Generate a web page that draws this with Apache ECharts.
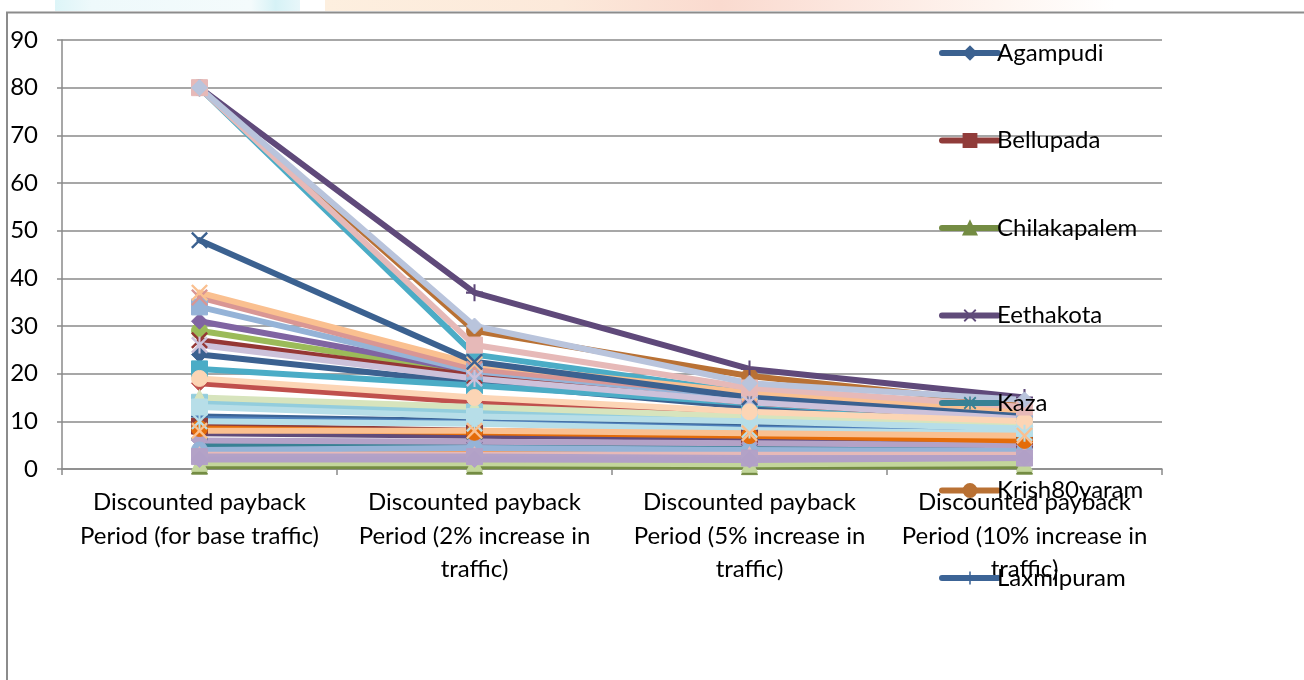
<!DOCTYPE html>
<html>
<head>
<meta charset="utf-8">
<title>Discounted payback period</title>
<script src="https://cdn.jsdelivr.net/npm/echarts@6/dist/echarts.min.js"></script>
<style>
  html, body { margin: 0; padding: 0; background: #ffffff; }
  #chart { width: 1304px; height: 680px; }
</style>
</head>
<body>
<div id="chart"></div>
<script>
// Category (x axis) labels
const categories = [
  'Discounted payback\nPeriod (for base traffic)',
  'Discounted payback\nPeriod (2% increase in\ntraffic)',
  'Discounted payback\nPeriod (5% increase in\ntraffic)',
  'Discounted payback\nPeriod (10% increase in\ntraffic)'
];

// Y axis ticks
const yTicks = [0, 10, 20, 30, 40, 50, 60, 70, 80, 90];

// Series (one per village)
const villages = [
  'Agampudi', 'Bellupada', 'Chilakapalem', 'Eethakota', 'Kaza', 'Krish80yaram', 'Laxmipuram',
  'Village 8', 'Village 9', 'Village 10', 'Village 11', 'Village 12', 'Village 13', 'Village 14',
  'Village 15', 'Village 16', 'Village 17', 'Village 18', 'Village 19', 'Village 20', 'Village 21',
  'Village 22', 'Village 23', 'Village 24', 'Village 25', 'Village 26', 'Village 27', 'Village 28',
  'Village 29', 'Village 30', 'Village 31', 'Village 32', 'Village 33', 'Village 34', 'Village 35',
  'Village 36'
];

// Discounted payback period (years), one array per traffic scenario, in village order
const baseTraffic = [24, 9, 0.6, 7.5, 5, 80, 11, 18, 29, 31, 21, 3.3, 10.5, 27, 80, 34, 36, 1.2,
  6, 14, 37, 4, 3, 48, 8.5, 2.6, 80, 26, 15, 13, 19, 10, 8, 80, 80, 2];
const inc2 = [18, 8, 0.6, 7, 5, 29, 10, 14, 20, 20.5, 17.5, 3.3, 9.7, 19.5, 24, 20.5, 21, 1.2,
  5.7, 12, 22, 4.4, 3, 22.5, 7.7, 2.6, 37, 19, 13, 11, 15, 9.5, 8, 26, 30, 2];
const inc5 = [13, 7, 0.5, 6.5, 4.8, 19.5, 9, 11.5, 14, 14.5, 13.8, 3, 8.5, 14, 16, 15, 15.5, 1,
  5.4, 10.5, 16, 4, 3, 15, 7, 2.3, 21, 14, 11, 10, 12, 8.2, 7.5, 17, 18, 1.9];
const inc10 = [10, 6, 0.6, 6, 4.5, 13.5, 8, 9, 10.5, 11, 10, 3, 7.8, 10.5, 12.5, 11.5, 11.5, 1.2,
  5, 8.5, 12, 3.8, 3, 11, 6, 2.3, 15, 10.5, 9, 8.5, 10, 7.5, 7, 13, 14.5, 2.3];

// Line colours and marker shapes, in series order
const palette = [
  '#3B6190', '#903C3A', '#748C43', '#604B7A', '#388194', '#B97134', '#3C6496',
  '#C0504D', '#9BBB59', '#8064A2', '#4BACC6', '#F79646', '#4F81BD', '#953735',
  '#4BACC6', '#95B3D7', '#D99694', '#C3D69B', '#B3A2C7', '#93CDDD', '#FAC090',
  '#95B3D7', '#E6B9B8', '#3B6190', '#E46C0A', '#B3A2C7', '#5F497A', '#CCC1DA',
  '#D7E4BD', '#B7DEE8', '#FCD5B5', '#B7DEE8', '#FAC090', '#E6B9B8', '#B9C4DC',
  '#B1A0C7'
];

const X_MARK = 'path://M1,0L5,4L9,0L10,1L6,5L10,9L9,10L5,6L1,10L0,9L4,5L0,1Z';
const PLUS_MARK = 'path://M4.4,0H5.6V4.4H10V5.6H5.6V10H4.4V5.6H0V4.4H4.4Z';
const STAR_MARK = 'path://M1,0L5,4L9,0L10,1L6,5L10,9L9,10L5,6L1,10L0,9L4,5L0,1Z M4.4,0H5.6V10H4.4Z';

const markers = [
  'diamond', 'rect', 'triangle', X_MARK, STAR_MARK, 'circle', PLUS_MARK,
  'diamond', 'circle', 'diamond', 'rect', 'triangle', STAR_MARK, X_MARK,
  'circle', 'rect', X_MARK, 'triangle', 'diamond', 'rect', X_MARK,
  'circle', 'triangle', X_MARK, 'circle', 'rect', PLUS_MARK, STAR_MARK,
  'triangle', 'rect', 'circle', STAR_MARK, X_MARK, 'rect', 'diamond',
  'diamond'
];

const FONT = 'Lato, "Open Sans", sans-serif';
const FONT_SIZE = 24;
const GRID_GREY = '#8A8A8A';

const series = villages.map((name, i) => {
  const m = markers[i];
  const thin = (m === X_MARK || m === PLUS_MARK || m === STAR_MARK);
  return {
    name: name,
    type: 'line',
    data: [baseTraffic[i], inc2[i], inc5[i], inc10[i]],
    symbol: m,
    symbolSize: thin ? 17 : 16,
    showAllSymbol: true,
    lineStyle: { color: palette[i], width: 6, cap: 'round', join: 'round' },
    itemStyle: { color: palette[i], borderColor: palette[i], borderWidth: thin ? 0 : 1 },
    emphasis: { disabled: true },
    animation: false,
    z: 2
  };
});

const chart = echarts.init(document.getElementById('chart'), null, { renderer: 'canvas' });

chart.setOption({
  backgroundColor: '#ffffff',
  animation: false,
  textStyle: { fontFamily: FONT },
  graphic: [
    // faint coloured band along the top edge
    {
      type: 'rect', z: -10, silent: true,
      shape: { x: 55, y: 0, width: 245, height: 11 },
      style: {
        fill: new echarts.graphic.LinearGradient(0, 0, 1, 0, [
          { offset: 0, color: '#DDF5F8' }, { offset: 0.15, color: '#EEF9FB' },
          { offset: 0.8, color: '#F4FBFC' }, { offset: 0.9, color: '#D6F2F6' },
          { offset: 1, color: '#E8F7FA' }
        ])
      }
    },
    {
      type: 'rect', z: -10, silent: true,
      shape: { x: 325, y: 0, width: 790, height: 11 },
      style: {
        fill: new echarts.graphic.LinearGradient(0, 0, 1, 0, [
          { offset: 0, color: '#FDEFDF' }, { offset: 0.3, color: '#FCE9DA' },
          { offset: 0.5, color: '#FADACF' }, { offset: 0.65, color: '#FCE6DE' },
          { offset: 0.85, color: '#FEF5F0' }, { offset: 1, color: '#FFFFFF' }
        ])
      }
    },
    // outer frame
    {
      type: 'polyline', z: 100, silent: true,
      shape: { points: [[7, 680], [7, 12.5], [1304, 12.5]] },
      style: { stroke: '#8C8C8C', lineWidth: 2, fill: null }
    }
  ],
  legend: {
    data: villages.slice(0, 7),
    orient: 'vertical',
    left: 939,
    top: 41,
    itemWidth: 56,
    itemHeight: 16,
    itemGap: 63.5,
    padding: 0,
    lineStyle: { width: 6, cap: 'round' },
    textStyle: { fontSize: FONT_SIZE, color: '#000000', fontFamily: FONT, padding: [0, 0, 0, -6] },
    selectedMode: false
  },
  grid: { left: 62, right: 142, top: 40, bottom: 211, containLabel: false },
  xAxis: {
    type: 'category',
    data: categories,
    boundaryGap: true,
    axisLine: { show: true, lineStyle: { color: GRID_GREY, width: 1.5 } },
    axisTick: { show: true, length: 6, lineStyle: { color: GRID_GREY, width: 1.5 } },
    axisLabel: {
      interval: 0, margin: 17, fontSize: FONT_SIZE, lineHeight: 33.5,
      color: '#000000', fontFamily: FONT, align: 'center'
    },
    splitLine: { show: false }
  },
  yAxis: {
    type: 'value',
    min: yTicks[0],
    max: yTicks[yTicks.length - 1],
    interval: 10,
    axisLine: { show: true, lineStyle: { color: GRID_GREY, width: 1.5 } },
    axisTick: { show: true, length: 5, lineStyle: { color: GRID_GREY, width: 1.5 } },
    axisLabel: { margin: 24, fontSize: FONT_SIZE, color: '#000000', fontFamily: FONT },
    splitLine: { show: true, lineStyle: { color: GRID_GREY, width: 1.5 } }
  },
  series: series
});
</script>
</body>
</html>
